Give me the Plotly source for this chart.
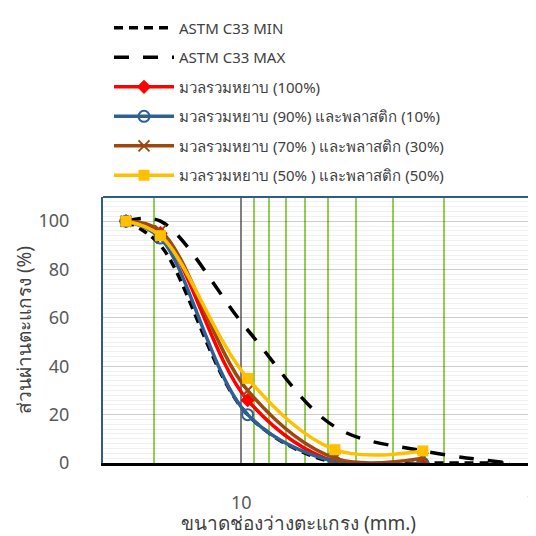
import plotly.graph_objects as go

sieve = [25, 19, 9.5, 4.75, 2.36]
astm_sieve = [25, 19, 9.5, 4.75, 2.36, 1.18]
astm_min = [100, 90, 20, 0, 0, 0]
astm_max = [100, 100, 55, 15, 5, 0]
agg100 = [100, 95, 26, 0.5, 0]
agg90 = [100, 93, 20, 0.5, 0]
agg70 = [100, 96, 30, 2, 2]
agg50 = [100, 94, 35, 5.5, 5]
x_tick_vals = [10, 1]
x_tick_text = ["10", "1"]

names = ["ASTM C33 MIN", "ASTM C33 MAX", "มวลรวมหยาบ (100%)",
         "มวลรวมหยาบ (90%) และพลาสติก (10%)",
         "มวลรวมหยาบ (70% ) และพลาสติก (30%)",
         "มวลรวมหยาบ (50% ) และพลาสติก (50%)"]

FONT = "Noto Sans, Open Sans, sans-serif"
fig = go.Figure()
fig.add_trace(go.Scatter(x=astm_sieve, y=astm_min, name=names[0], mode="lines",
                         line=dict(color="black", width=3.5, dash="9px,6px", shape="spline"),
                         legendgroup="a"))
fig.add_trace(go.Scatter(x=astm_sieve, y=astm_max, name=names[1], mode="lines",
                         line=dict(color="black", width=3.5, dash="15px,14px", shape="spline"),
                         legendgroup="b"))
fig.add_trace(go.Scatter(x=sieve, y=agg100, name=names[2], mode="lines+markers",
                         line=dict(color="#FF0000", width=3.5, shape="spline"),
                         marker=dict(symbol="diamond", size=11, color="#FF0000"),
                         legendgroup="c"))
fig.add_trace(go.Scatter(x=sieve, y=agg90, name=names[3], mode="lines+markers",
                         line=dict(color="#2E6094", width=3.5, shape="spline"),
                         marker=dict(symbol="circle-open", size=11, color="#2E6094",
                                     line=dict(width=2)),
                         legendgroup="d"))
fig.add_trace(go.Scatter(x=sieve, y=agg70, name=names[4], mode="lines+markers",
                         line=dict(color="#9E480E", width=3.5, shape="spline"),
                         marker=dict(symbol="x-thin-open", size=11, color="#9E480E",
                                     line=dict(width=2, color="#9E480E")),
                         legendgroup="e"))
fig.add_trace(go.Scatter(x=sieve, y=agg50, name=names[5], mode="lines+markers",
                         line=dict(color="#FFC000", width=3.5, shape="spline"),
                         marker=dict(symbol="square", size=11, color="#FFC000"),
                         legendgroup="f"))

# the page body adds an 8px offset, so the figure is 528x528 with shifted margins
fig.update_layout(
    width=528, height=528,
    margin=dict(l=95, r=4, t=187, b=73),
    plot_bgcolor="white", paper_bgcolor="white",
    font=dict(family=FONT, color="#595959"),
    showlegend=True,
    legend=dict(x=0.014, xanchor="left", y=1.697, yanchor="top", itemwidth=60,
                font=dict(size=15, color="#404040"), tracegroupgap=7,
                bgcolor="rgba(0,0,0,0)"),
    xaxis=dict(type="log", range=[1.4771, -0.004], tickvals=x_tick_vals,
               ticktext=[x_tick_text[0], ""],
               showgrid=True, gridcolor="#7F7F7F", gridwidth=1.5,
               minor=dict(showgrid=True, gridcolor="#92D050", gridwidth=1.5, dtick="D1",
                          griddash="solid"),
               showline=True, linecolor="black", linewidth=2.5,
               ticks="", tickfont=dict(size=18), ticklabelstandoff=22,
               ticklabeloverflow="allow",
               automargin=False, zeroline=False),
    yaxis=dict(range=[0, 110], tickvals=[0, 20, 40, 60, 80, 100],
               showgrid=True, gridcolor="rgba(0,0,0,0.15)", gridwidth=1,
               minor=dict(showgrid=True, gridcolor="rgba(0,0,0,0.06)", dtick=2),
               showline=True, linecolor="#2E5C8A", linewidth=2, mirror=True,
               ticks="", tickfont=dict(size=18), ticklabelstandoff=28,
               title=dict(text="ส่วนผ่านตะแกรง (%)", font=dict(size=19, color="#404040"),
                          standoff=2),
               automargin=False, zeroline=False),
)
# label for the right-edge tick (plotly drops it at the edge of the div)
fig.add_annotation(text=x_tick_text[1], xref="x", yref="paper", x=0, y=-0.138,
                   xanchor="center", yanchor="middle", showarrow=False,
                   font=dict(size=18, color="#595959"))
fig.add_annotation(text="ขนาดช่องว่างตะแกรง (mm.)", xref="paper", yref="paper",
                   x=0.455, y=-0.226, xanchor="center", yanchor="middle", showarrow=False,
                   font=dict(size=19, color="#404040"))
fig.add_shape(type="line", xref="paper", yref="paper", x0=0, x1=1, y0=1, y1=1,
              line=dict(color="#2E5C8A", width=2))
fig.write_html("out.html")
